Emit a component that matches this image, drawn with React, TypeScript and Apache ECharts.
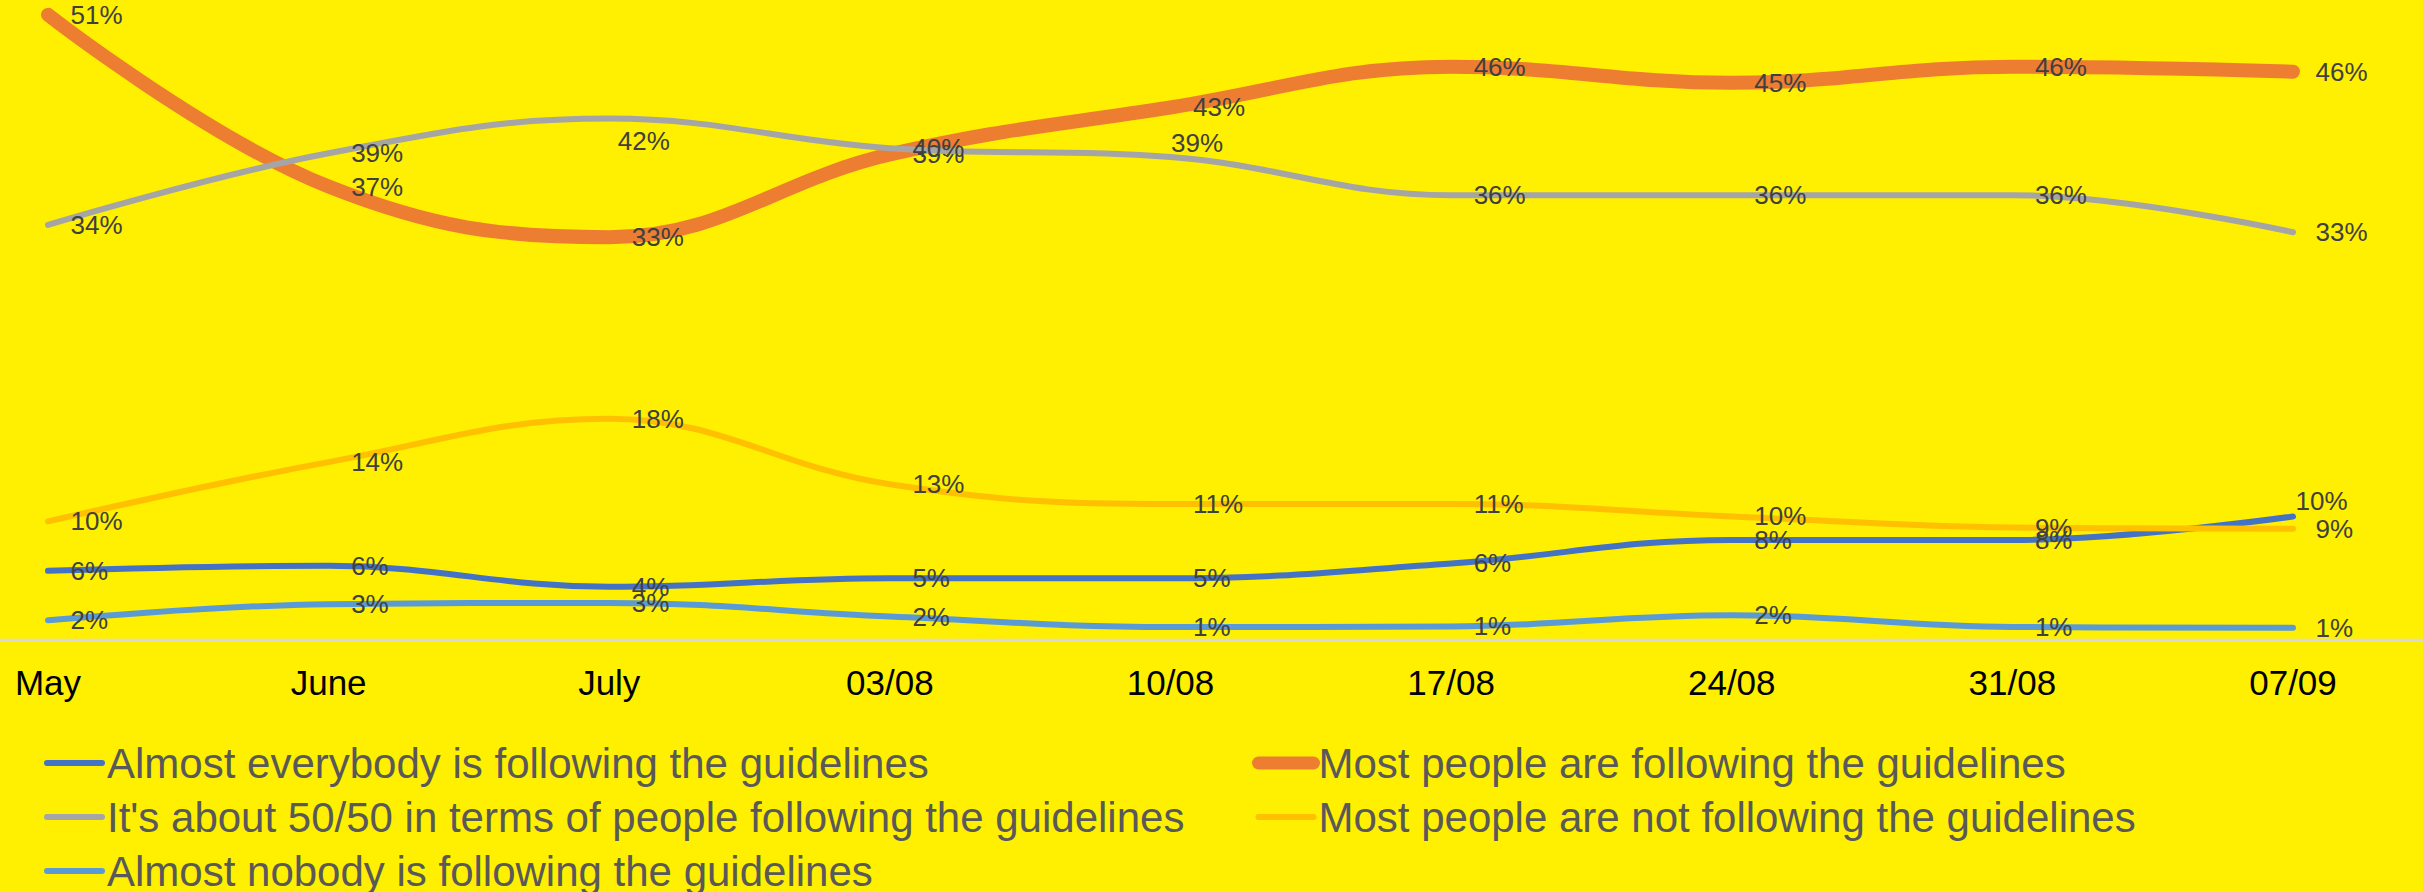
import React, { useEffect, useRef } from 'react';
import * as echarts from 'echarts';

const categories = ['May', 'June', 'July', '03/08', '10/08', '17/08', '24/08', '31/08', '07/09'];

const seriesNames = [
  'Almost everybody is following the guidelines',
  'Most people are following the guidelines',
  "It's about 50/50 in terms of people following the guidelines",
  'Most people are not following the guidelines',
  'Almost nobody is following the guidelines',
];

const almostEverybody = [5.6, 6.0, 4.3, 5.0, 5.0, 6.2, 8.1, 8.1, 10];
const mostFollowing = [50.6, 36.7, 32.6, 39.3, 43.1, 46.4, 45.1, 46.4, 46];
const fiftyFifty = [33.6, 39.4, 42.2, 39.8, 39.1, 36.0, 36.0, 36.0, 33];
const mostNotFollowing = [9.6, 14.4, 17.9, 12.6, 11.0, 11.0, 10.0, 9.1, 9];
const almostNobody = [1.6, 2.9, 3.0, 1.9, 1.05, 1.1, 2.0, 1.05, 1];

const seriesValues = [almostEverybody, mostFollowing, fiftyFifty, mostNotFollowing, almostNobody];

const colors = ['#4472C4', '#ED7D31', '#A5A5A5', '#FFC000', '#5B9BD5'];
const widths = [6, 14, 6, 6, 6];

// label nudges (style only)
const labelOffsets: Record<number, Record<number, number[]>> = {
  0: { 8: [-20, -15] },
  2: { 2: [-14, 22], 4: [-22, -14] },
};

const FONT = '"Liberation Sans", Arial, sans-serif';

export default function App() {
  const ref = useRef<HTMLDivElement>(null);

  useEffect(() => {
    if (!ref.current) return;
    const chart = echarts.init(ref.current, undefined, { renderer: 'svg' });

    const series = seriesValues.map((vals, si) => ({
      name: seriesNames[si],
      type: 'line',
      smooth: 0.4,
      symbol: 'circle',
      symbolSize: 1,
      showSymbol: true,
      data: vals.map((v, i) => {
        const off = labelOffsets[si] && labelOffsets[si][i];
        return off ? { value: v, label: { offset: off } } : v;
      }),
      lineStyle: { color: colors[si], width: widths[si], cap: 'round', join: 'round' },
      itemStyle: { color: colors[si] },
      label: {
        show: true,
        position: 'right',
        distance: 22,
        fontSize: 26,
        fontFamily: FONT,
        color: '#404040',
        formatter: (p: any) => Math.round(p.value) + '%',
      },
      emphasis: { disabled: true },
      z: 2 + si,
    }));

    const legendCommon = {
      orient: 'vertical',
      itemWidth: 55,
      itemHeight: 24,
      itemGap: 12,
      padding: 0,
      height: 200,
      selectedMode: false,
      itemStyle: { opacity: 0 },
      lineStyle: { width: 6, cap: 'round' },
      textStyle: { fontSize: 42, color: '#595959', fontFamily: FONT },
    };

    chart.setOption({
      animation: false,
      backgroundColor: '#FFEF00',
      grid: { left: 48, right: 130, top: 0, bottom: 252 },
      xAxis: {
        type: 'category',
        data: categories,
        boundaryGap: false,
        axisLine: { show: false },
        axisTick: { show: false },
        splitLine: { show: false },
        axisLabel: { color: '#000000', fontSize: 35, fontFamily: FONT, margin: 25, interval: 0 },
      },
      yAxis: { type: 'value', min: 0, max: 51.8, show: false, splitLine: { show: false } },
      legend: [
        {
          ...legendCommon,
          left: 44,
          top: 742,
          data: [seriesNames[0], seriesNames[2], seriesNames[4]],
        },
        {
          ...legendCommon,
          left: 1252,
          top: 742,
          data: [{ name: seriesNames[1], lineStyle: { width: 13 } }, seriesNames[3]],
        },
      ],
      graphic: [
        {
          type: 'line',
          silent: true,
          z: 1,
          shape: { x1: 0, y1: 640, x2: 2423, y2: 640 },
          style: { stroke: '#D9D9D9', lineWidth: 2.5 },
        },
      ],
      series,
    });

    return () => chart.dispose();
  }, []);

  return (
    <div
      ref={ref}
      style={{ position: 'fixed', left: 0, top: 0, width: 2423, height: 892, background: '#FFEF00' }}
    />
  );
}
